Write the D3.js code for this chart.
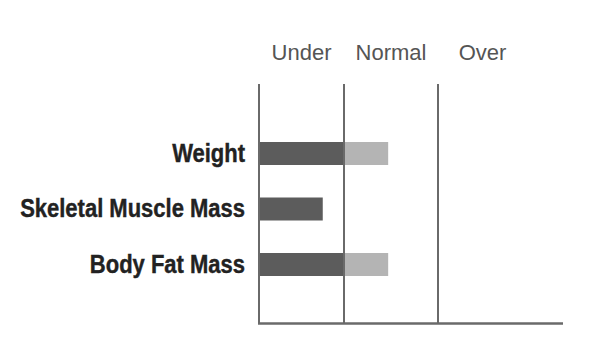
<!DOCTYPE html>
<html>
<head>
<meta charset="utf-8">
<script src="https://cdn.jsdelivr.net/npm/d3@7"></script>
<style>
  body { margin: 0; background: #fff; }
</style>
</head>
<body>
<div id="chart"></div>
<script>
// chart data
const categories = ["Weight", "Skeletal Muscle Mass", "Body Fat Mass"];
const values = [1.47, 0.75, 1.47];          // 0-1 under, 1-2 normal, 2-3 over
const zoneLabels = ["Under", "Normal", "Over"];
const zoneBounds = [0, 1, 2, 3];

const width = 610;
const height = 361;

var svg = d3.select("#chart")
    .append("svg")
    .attr("width", width)
    .attr("height", height);

// x scale: each zone boundary to a pixel position
var x = d3.scaleLinear()
    .domain(zoneBounds)
    .range([259, 344, 438, 527]);

var y = d3.scalePoint()
    .domain(categories)
    .range([153.5, 264.5]);

const barH = 23;
const axisBottom = 323.5;
const axisTop = 84;

// bars: dark part up to "normal" boundary, light part after
svg.selectAll(".bar-under")
    .data(categories)
    .enter().append("rect")
    .attr("class", "bar-under")
    .attr("x", x(0))
    .attr("y", d => y(d) - barH / 2)
    .attr("width", (d, i) => x(Math.min(values[i], 1)) - x(0))
    .attr("height", barH)
    .style("fill", "#5c5c5c");

svg.selectAll(".bar-normal")
    .data(categories.filter((d, i) => values[i] > 1))
    .enter().append("rect")
    .attr("class", "bar-normal")
    .attr("x", x(1))
    .attr("y", d => y(d) - barH / 2)
    .attr("width", d => x(values[categories.indexOf(d)]) - x(1))
    .attr("height", barH)
    .style("fill", "#b4b4b4");

// zone dividers
svg.selectAll(".zone-line")
    .data(zoneBounds.slice(0, 3))
    .enter().append("line")
    .attr("class", "zone-line")
    .attr("x1", d => x(d))
    .attr("x2", d => x(d))
    .attr("y1", axisTop)
    .attr("y2", axisBottom)
    .style("stroke", "#6a6a6a")
    .style("stroke-width", 2);

// bottom line
svg.append("line")
    .attr("x1", x(0) - 1)
    .attr("x2", 563)
    .attr("y1", axisBottom)
    .attr("y2", axisBottom)
    .style("stroke", "#6a6a6a")
    .style("stroke-width", 2.5);

// zone labels on top
svg.selectAll(".zone-label")
    .data(zoneLabels)
    .enter().append("text")
    .attr("class", "zone-label")
    .attr("x", (d, i) => (x(zoneBounds[i]) + x(zoneBounds[i + 1])) / 2)
    .attr("y", 60)
    .attr("text-anchor", "middle")
    .style("font-family", "'Liberation Sans', Arial, sans-serif")
    .style("font-size", "22px")
    .style("fill", "#555")
    .text(d => d);

// category labels, slightly condensed bold
var labels = svg.append("g")
    .attr("transform", "translate(245,0) scale(0.88,1)");

labels.selectAll(".cat-label")
    .data(categories)
    .enter().append("text")
    .attr("class", "cat-label")
    .attr("x", 0)
    .attr("y", d => y(d) + 8.5)
    .attr("text-anchor", "end")
    .style("font-family", "'Liberation Sans', Arial, sans-serif")
    .style("font-weight", "bold")
    .style("font-size", "25px")
    .style("fill", "#222")
    .style("stroke", "#222")
    .style("stroke-width", 0.4)
    .text(d => d);
</script>
</body>
</html>
